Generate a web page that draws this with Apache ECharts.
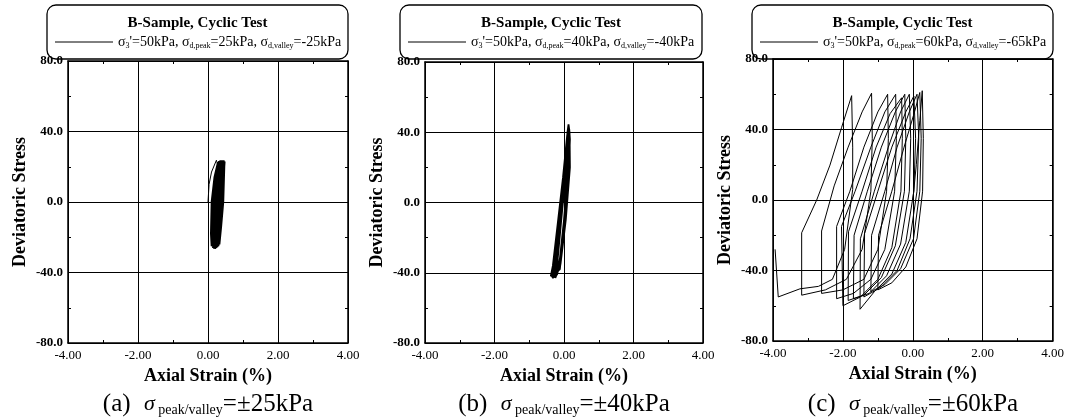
<!DOCTYPE html>
<html lang="en">
  <head>
    <meta charset="UTF-8" />
    <title>Cyclic Test</title>
    <style>
      html,
      body {
        margin: 0;
        padding: 0;
        background: #fff;
      }
      #chart {
        width: 1067px;
        height: 418px;
      }
    </style>
  </head>
  <body>
    <div id="chart"></div>
    <script src="https://cdn.jsdelivr.net/npm/echarts@6/dist/echarts.min.js"></script>
    <script>
      // tick labels
      const xTickLabels = ["-4.00", "-2.00", "0.00", "2.00", "4.00"];
      const yTickLabels = ["-80.0", "-40.0", "0.0", "40.0", "80.0"];

      // legend / caption values
      const panelNames = ["(a)", "(b)", "(c)"];
      const sigma3 = [50, 50, 50];
      const peakStress = [25, 40, 60];
      const valleyStress = [-25, -40, -65];
      const amplitude = [25, 40, 60];

      // (a) +-25kPa : [axial strain %, deviatoric stress kPa]
      const loadA = [
        [0, 0], [0.03, 10], [0.1, 17], [0.24, 23.7], [0.29, 20.4], [0.33, 23.3],
      ];
      const loopsA = [
        [0.33, 23.3], [0.32, 5], [0.28, -10], [0.2, -20], [0.12, -25],
        [0.1, -18], [0.12, 0], [0.2, 14], [0.3, 22.5],
        [0.33, 23], [0.31, 2], [0.25, -15], [0.16, -26],
        [0.13, -19], [0.15, -1], [0.24, 15], [0.34, 23],
        [0.36, 22], [0.34, 0], [0.28, -16], [0.19, -26.5],
        [0.16, -20], [0.17, 0], [0.26, 14], [0.37, 23.5],
        [0.39, 22], [0.37, 0], [0.31, -15], [0.22, -26],
        [0.19, -19], [0.2, 1], [0.29, 15], [0.4, 23],
        [0.42, 22], [0.39, 0], [0.33, -16], [0.25, -25.5],
        [0.22, -18], [0.23, 0], [0.32, 15], [0.43, 23.5],
        [0.45, 22], [0.41, 0], [0.34, -15], [0.28, -25],
        [0.25, -18], [0.26, 0], [0.35, 15], [0.46, 23],
        [0.45, 20], [0.42, 0], [0.36, -14], [0.31, -24],
      ];

      // (b) +-40kPa
      const loopsB = [
        [0, 0], [0.05, 20], [0.1, 40], [0.13, 44],
        [0.12, 30], [0.05, 0], [-0.1, -30], [-0.2, -40], [-0.3, -42],
        [-0.25, -35], [-0.12, -10], [0.0, 15], [0.12, 42],
        [0.14, 40], [0.12, 20], [0.0, -10], [-0.15, -38], [-0.25, -43],
        [-0.2, -36], [-0.08, -10], [0.04, 15], [0.14, 43],
        [0.15, 38], [0.1, 10], [-0.05, -25], [-0.2, -41], [-0.33, -43],
        [-0.3, -38], [-0.15, -12], [0.0, 15], [0.1, 40], [0.13, 44.5],
        [0.16, 40], [0.17, 20], [0.05, -10], [-0.1, -35], [-0.28, -42],
        [-0.22, -30], [-0.1, -5], [0.03, 20], [0.15, 42],
        [0.17, 36], [0.12, 10], [-0.02, -20], [-0.12, -38], [-0.38, -42],
        [-0.32, -36], [-0.18, -12], [-0.03, 14], [0.09, 38], [0.12, 43],
      ];

      // (c) +-60kPa
      const loopsC = [
        [0, 0], [0.1, 20], [0.2, 45], [0.27, 62],
        [0.3, 35], [0.28, 5], [0.12, -22], [-0.2, -38], [-0.6, -47], [-1.0, -51],
        [-0.98, -20], [-0.6, 5], [-0.25, 30], [0.05, 50], [0.2, 61],
        [0.24, 35], [0.2, 5], [0.02, -22], [-0.35, -39], [-0.8, -48], [-1.2, -52],
        [-1.18, -20], [-0.8, 5], [-0.45, 30], [-0.1, 50], [0.12, 60],
        [0.17, 35], [0.12, 5], [-0.08, -22], [-0.45, -40], [-0.95, -50], [-1.4, -55],
        [-1.38, -19], [-1.0, 5], [-0.6, 30], [-0.2, 50], [0.03, 59],
        [0.08, 35], [0.03, 5], [-0.2, -24], [-0.6, -42], [-1.1, -52], [-1.51, -62],
        [-1.5, -22], [-1.1, 5], [-0.7, 30], [-0.35, 50], [-0.1, 60],
        [-0.06, 35], [-0.1, 5], [-0.35, -25], [-0.75, -43], [-1.25, -53], [-1.7, -56],
        [-1.68, -20], [-1.3, 5], [-0.9, 30], [-0.5, 50], [-0.23, 60],
        [-0.2, 35], [-0.24, 5], [-0.5, -26], [-0.9, -44], [-1.4, -54], [-1.85, -57],
        [-1.84, -18], [-1.45, 5], [-1.05, 30], [-0.65, 49], [-0.32, 58],
        [-0.3, 35], [-0.34, 5], [-0.6, -27], [-1.0, -45], [-1.5, -55], [-2.0, -60],
        [-2.04, -15], [-1.65, 5], [-1.2, 30], [-0.8, 50], [-0.49, 60],
        [-0.47, 35], [-0.52, 5], [-0.8, -28], [-1.2, -45], [-1.7, -53], [-2.18, -56],
        [-2.18, -15], [-1.8, 5], [-1.4, 30], [-1.0, 50], [-0.72, 60],
        [-0.7, 35], [-0.75, 5], [-1.0, -28], [-1.4, -45], [-2.0, -51], [-2.61, -53],
        [-2.61, -17.6], [-2.25, 8], [-1.85, 30], [-1.45, 50], [-1.18, 60.6],
        [-1.16, 35], [-1.2, 5], [-1.45, -28], [-1.9, -45], [-2.5, -51], [-3.18, -54],
        [-3.18, -18.6], [-2.75, 0], [-2.37, 19.8], [-2.04, 41], [-1.75, 59.2],
        [-1.72, 30], [-1.72, 6], [-1.95, -28], [-2.3, -45], [-2.7, -49], [-3.23, -50.4], [-3.85, -55],
        [-3.94, -28],
      ];

      const serif = '"Liberation Serif", "DejaVu Serif", serif';

      // plot boxes in px
      const grids = [
        { left: 68, top: 61, width: 280, height: 282 },
        { left: 425, top: 62, width: 278, height: 281 },
        { left: 773, top: 59, width: 280, height: 282 },
      ];
      // legend box edges
      const boxes = [
        { x1: 47, x2: 348 },
        { x1: 400, x2: 702 },
        { x1: 752, x2: 1053 },
      ];

      const myChart = echarts.init(document.getElementById("chart"));

      const black = { color: "#000" };

      // main axes (bottom / left) + plain tick axes on top / right
      const xAxes = [];
      const yAxes = [];
      grids.forEach((g, i) => {
        xAxes.push({
          type: "value",
          gridIndex: i,
          min: -4,
          max: 4,
          interval: 2,
          name: "Axial Strain (%)",
          nameLocation: "middle",
          nameGap: 24,
          nameTextStyle: { fontFamily: serif, fontWeight: "bold", fontSize: 18, color: "#000" },
          axisLine: { onZero: false, lineStyle: { color: "#000", width: 1.5 } },
          axisTick: { show: true, inside: true, length: 3, lineStyle: black },
          minorTick: { show: true, splitNumber: 2, length: 3, lineStyle: black },
          splitLine: { show: true, lineStyle: { color: "#000", width: 1 } },
          axisLabel: {
            margin: 6,
            fontFamily: serif,
            fontSize: 13,
            color: "#000",
            formatter: (v) => xTickLabels[Math.round((v + 4) / 2)],
          },
        });
        xAxes.push({
          type: "value",
          gridIndex: i,
          position: "top",
          min: -4,
          max: 4,
          interval: 2,
          axisLine: { onZero: false, lineStyle: { color: "#000", width: 1.5 } },
          axisTick: { show: true, inside: true, length: 3, lineStyle: black },
          minorTick: { show: true, splitNumber: 2, length: 3, lineStyle: black },
          splitLine: { show: false },
          axisLabel: { show: false },
        });
        yAxes.push({
          type: "value",
          gridIndex: i,
          min: -80,
          max: 80,
          interval: 40,
          name: "Deviatoric Stress",
          nameLocation: "middle",
          nameRotate: 90,
          nameGap: 39,
          nameTextStyle: { fontFamily: serif, fontWeight: "bold", fontSize: 18, color: "#000" },
          axisLine: { onZero: false, lineStyle: { color: "#000", width: 1.5 } },
          axisTick: { show: true, inside: true, length: 3, lineStyle: black },
          minorTick: { show: true, splitNumber: 2, length: 3, lineStyle: black },
          splitLine: { show: true, lineStyle: { color: "#000", width: 1 } },
          axisLabel: {
            margin: 5,
            fontFamily: serif,
            fontWeight: "bold",
            fontSize: 13,
            color: "#000",
            formatter: (v) => yTickLabels[Math.round((v + 80) / 40)],
          },
        });
        yAxes.push({
          type: "value",
          gridIndex: i,
          position: "right",
          min: -80,
          max: 80,
          interval: 40,
          axisLine: { onZero: false, lineStyle: { color: "#000", width: 1.5 } },
          axisTick: { show: true, inside: true, length: 3, lineStyle: black },
          minorTick: { show: true, splitNumber: 2, length: 3, lineStyle: black },
          splitLine: { show: false },
          axisLabel: { show: false },
        });
      });

      const line = (data, i, w) => ({
        type: "line",
        xAxisIndex: i * 2,
        yAxisIndex: i * 2,
        data: data,
        showSymbol: false,
        symbol: "none",
        smooth: false,
        lineStyle: { color: "#000", width: w },
        silent: true,
      });

      // legend boxes + captions
      const graphic = [];
      grids.forEach((g, i) => {
        const bx = boxes[i].x1;
        const bw = boxes[i].x2 - boxes[i].x1;
        graphic.push({
          type: "rect",
          shape: { x: bx, y: 5, width: bw, height: 54, r: 9 },
          style: { fill: "none", stroke: "#000", lineWidth: 1.3 },
        });
        graphic.push({
          type: "text",
          style: {
            x: bx + bw / 2,
            y: 23,
            text: "B-Sample, Cyclic Test",
            font: "bold 15px " + serif,
            fill: "#000",
            align: "center",
            verticalAlign: "middle",
          },
        });
        graphic.push({
          type: "line",
          shape: { x1: bx + 8, y1: 42, x2: bx + 66, y2: 42 },
          style: { stroke: "#000", lineWidth: 1 },
        });
        graphic.push({
          type: "text",
          style: {
            x: bx + 71,
            y: 42,
            text:
              "{t|σ}{s|3}{t|'=" + sigma3[i] + "kPa, σ}{s|d,peak}{t|=" + peakStress[i] +
              "kPa, σ}{s|d,valley}{t|=" + valleyStress[i] + "kPa}",
            align: "left",
            verticalAlign: "middle",
            rich: {
              t: { fontFamily: serif, fontSize: 14, fill: "#000", lineHeight: 16 },
              s: { fontFamily: serif, fontSize: 8, fill: "#000", lineHeight: 10, verticalAlign: "bottom" },
            },
          },
        });
        graphic.push({
          type: "text",
          style: {
            x: g.left + g.width / 2,
            y: 404,
            text: "{p|" + panelNames[i] + "}    {g|σ}{s| peak/valley}{p|=±" + amplitude[i] + "kPa}",
            align: "center",
            verticalAlign: "middle",
            rich: {
              p: { fontFamily: serif, fontSize: 25, fill: "#000", lineHeight: 26 },
              g: { fontFamily: serif, fontSize: 22, fontStyle: "italic", fill: "#000", lineHeight: 26 },
              s: { fontFamily: serif, fontSize: 14, fill: "#000", lineHeight: 16, verticalAlign: "bottom" },
            },
          },
        });
      });

      const option = {
        animation: false,
        backgroundColor: "#fff",
        grid: grids.map((g) => ({ ...g, containLabel: false })),
        xAxis: xAxes,
        yAxis: yAxes,
        series: [
          line(loadA, 0, 1),
          line(loopsA, 0, 3),
          line(loopsB, 1, 1.8),
          line(loopsC, 2, 1),
        ],
        graphic: graphic,
      };

      myChart.setOption(option);
    </script>
  </body>
</html>
